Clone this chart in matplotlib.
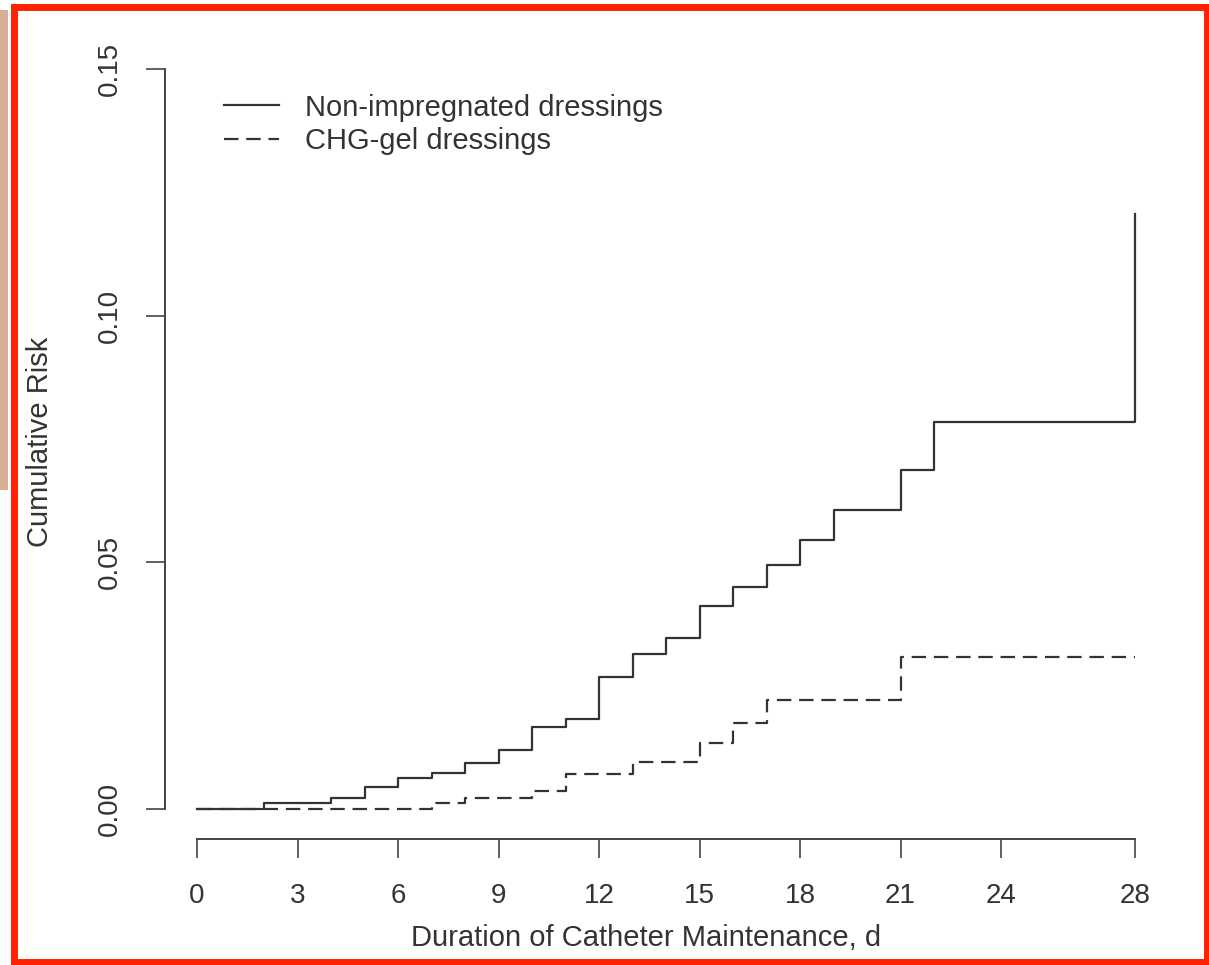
#!/usr/bin/env python3
"""Cumulative risk step curves: non-impregnated vs CHG-gel dressings (R-style axes)."""
import matplotlib
matplotlib.use("Agg")
import matplotlib.pyplot as plt
from matplotlib.patches import Rectangle

W, H, DPI = 1209, 965, 100

# step curves (value holds from that day on)
solid_days = [0, 2, 4, 5, 6, 7, 8, 9, 10, 11, 12, 13, 14, 15, 16, 17, 18, 19, 21, 22, 28]
solid_risk = [0.0, 0.0013, 0.0023, 0.0044, 0.0063, 0.0072, 0.0093, 0.0119, 0.0167,
              0.0183, 0.0267, 0.0315, 0.0346, 0.0412, 0.0449, 0.0495, 0.0546, 0.0606,
              0.0688, 0.0785, 0.1207]
dashed_days = [0, 7, 8, 10, 11, 13, 15, 16, 17, 21, 28]
dashed_risk = [0.0, 0.0013, 0.0023, 0.0036, 0.0071, 0.0096, 0.0133, 0.0174, 0.0220,
               0.0309, 0.0309]

x_ticks = [0, 3, 6, 9, 12, 15, 18, 21, 24, 28]
y_ticks = [0.00, 0.05, 0.10, 0.15]
y_tick_labels = ["0.00", "0.05", "0.10", "0.15"]
labels = ["Non-impregnated dressings", "CHG-gel dressings"]

INK = "#333333"
RED = "#FF2200"

plt.rcParams.update({
    "font.family": ["Liberation Sans", "DejaVu Sans"],
    "text.color": INK, "axes.labelcolor": INK,
    "xtick.color": INK, "ytick.color": INK,
})

fig = plt.figure(figsize=(W / DPI, H / DPI), dpi=DPI)

# axes box in pixels: y-axis line at x=165, x-axis line at y=839
left, right, bottom, top = 165, 1172, 839, 40
ax = fig.add_axes([left / W, 1 - bottom / H, (right - left) / W, (bottom - top) / H])

px_day = (1135 - 197) / 28.0
px_unit = (809 - 69) / 0.15
ax.set_xlim(-(197 - left) / px_day, 28 + (right - 1135) / px_day)
ax.set_ylim(-(bottom - 809) / px_unit, 0.15 + (69 - top) / px_unit)

ax.step(dashed_days, dashed_risk, where="post", color=INK, lw=1.6,
        dashes=(6.5, 3.5), label=labels[1], zorder=2)
ax.step(solid_days, solid_risk, where="post", color=INK, lw=1.6,
        label=labels[0], zorder=3)

for s in ("top", "right"):
    ax.spines[s].set_visible(False)
ax.spines["left"].set_bounds(0, 0.15)
ax.spines["bottom"].set_bounds(0, 28)
for s in ("left", "bottom"):
    ax.spines[s].set_linewidth(1.4)
    ax.spines[s].set_color("#444444")

ax.set_xticks(x_ticks)
ax.set_yticks(y_ticks)
ax.set_yticklabels(y_tick_labels, rotation=90, va="center")
ax.tick_params(axis="both", direction="out", length=13.5, width=1.2,
               color="#444444", labelsize=20)
ax.tick_params(axis="x", pad=18)
ax.tick_params(axis="y", pad=17)

fig.text(646 / W, 1 - 938 / H, "Duration of Catheter Maintenance, d",
         ha="center", va="center", fontsize=21, color=INK)
fig.text(40 / W, 1 - 442 / H, "Cumulative Risk", rotation=90,
         ha="center", va="center", fontsize=21, color=INK)

h, l = ax.get_legend_handles_labels()
ax.legend([h[1], h[0]], [l[1], l[0]], loc="upper left",
          bbox_to_anchor=(209 / W, 1 - 79 / H), bbox_transform=fig.transFigure,
          frameon=False, fontsize=21, handlelength=1.9, handletextpad=0.9,
          labelspacing=0.18, borderpad=0)

# red frame and the sliver of photo at the left edge
fig.patches.append(Rectangle((0, 1 - 490 / H), 8 / W, 480 / H, transform=fig.transFigure,
                             facecolor="#D8AE96", edgecolor="none", zorder=0))
fig.patches.append(Rectangle((13.5 / W, 1 - 961.5 / H), (1207 - 13.5) / W, (961.5 - 7) / H,
                             transform=fig.transFigure, facecolor="none",
                             edgecolor=RED, lw=5, zorder=10))

fig.savefig("out.png", dpi=DPI)
